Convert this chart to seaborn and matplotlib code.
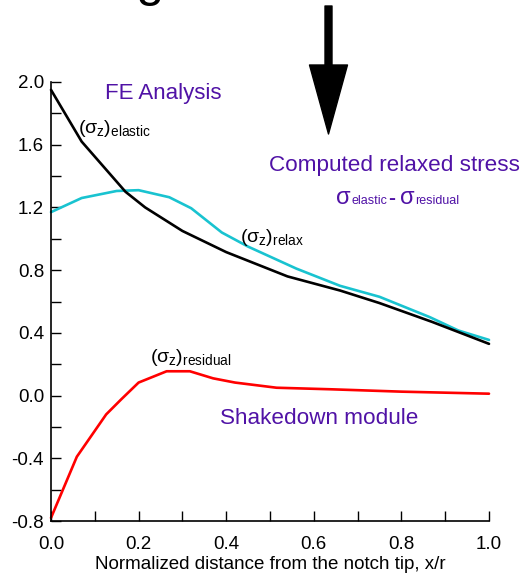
import matplotlib
matplotlib.use("Agg")
import matplotlib.pyplot as plt
from matplotlib.patches import FancyArrow
from matplotlib.ticker import MultipleLocator
import seaborn as sns
import pandas as pd

# ---------------- data ----------------
x_elastic = [0.0, 0.07, 0.12, 0.17, 0.215, 0.30, 0.40, 0.54, 0.66, 0.75, 0.87, 1.0]
y_elastic = [1.95, 1.62, 1.46, 1.30, 1.20, 1.05, 0.915, 0.76, 0.67, 0.59, 0.47, 0.33]

x_relax = [0.0, 0.07, 0.15, 0.20, 0.27, 0.32, 0.39, 0.45, 0.56, 0.66, 0.75, 0.865, 0.93, 1.0]
y_relax = [1.17, 1.26, 1.305, 1.31, 1.265, 1.195, 1.04, 0.95, 0.81, 0.70, 0.63, 0.50, 0.415, 0.355]

x_resid = [0.0, 0.059, 0.126, 0.16, 0.20, 0.264, 0.317, 0.37, 0.42, 0.515, 0.64, 0.80, 1.0]
y_resid = [-0.78, -0.39, -0.12, -0.025, 0.083, 0.155, 0.155, 0.11, 0.083, 0.05, 0.04, 0.025, 0.012]

x_ticks = [0.0, 0.2, 0.4, 0.6, 0.8, 1.0]
y_ticks = [-0.8, -0.4, 0.0, 0.4, 0.8, 1.2, 1.6, 2.0]
x_label = "Normalized distance from the notch tip, x/r"

# ---------------- style ----------------
sns.set_style("ticks")
plt.rcParams["font.family"] = ["Liberation Sans", "DejaVu Sans"]
plt.rcParams["mathtext.fontset"] = "custom"
plt.rcParams["mathtext.rm"] = "Liberation Sans"
plt.rcParams["mathtext.it"] = "Liberation Sans"
plt.rcParams["mathtext.bf"] = "Liberation Sans:bold"
plt.rcParams["axes.unicode_minus"] = False
plt.rcParams["text.color"] = "black"
plt.rcParams["axes.labelcolor"] = "black"

W, H = 526, 578
fig = plt.figure(figsize=(W / 100, H / 100), dpi=100)
fig.patch.set_facecolor("white")
ax = fig.add_axes([51 / W, 1 - 521 / H, (489 - 51) / W, (521 - 82) / H])
ax.set_facecolor("white")

PURPLE = "#5012A6"
CYAN = "#19C3D0"
RED = "#FF0000"

df_e = pd.DataFrame({"x": x_elastic, "y": y_elastic})
df_r = pd.DataFrame({"x": x_relax, "y": y_relax})
df_s = pd.DataFrame({"x": x_resid, "y": y_resid})

for d, c in [(df_r, CYAN), (df_e, "black"), (df_s, RED)]:
    sns.lineplot(data=d, x="x", y="y", ax=ax, color=c, linewidth=1.9,
                 estimator=None, sort=False, clip_on=False)

ax.set_xlim(0, 1.0)
ax.set_ylim(-0.8, 2.0)
ax.set_xticks(x_ticks)
ax.set_xticklabels([f"{v:.1f}" for v in x_ticks])
ax.set_yticks(y_ticks)
ax.set_yticklabels([f"{v:.1f}" for v in y_ticks])
ax.xaxis.set_minor_locator(MultipleLocator(0.1))
ax.yaxis.set_minor_locator(MultipleLocator(0.2))
ax.tick_params(which="both", direction="in", length=7, width=1.0, colors="black",
               labelsize=13.5, pad=5)
ax.tick_params(axis="x", pad=11)
for s in ["top", "right"]:
    ax.spines[s].set_visible(False)
for s in ["left", "bottom"]:
    ax.spines[s].set_linewidth(1.2)
    ax.spines[s].set_color("black")
ax.set_xlabel(x_label, fontsize=13.5, labelpad=2, color="black")
ax.set_ylabel("")


def px(xp, yp):
    return xp / W, 1 - yp / H


# curve labels
fig.text(*px(78, 128), r"$(\sigma_{z})_{elastic}$", fontsize=14, va="center", ha="left")
fig.text(*px(240, 237), r"$(\sigma_{z})_{relax}$", fontsize=14, va="center", ha="left")
fig.text(*px(150, 357), r"$(\sigma_{z})_{residual}$", fontsize=14, va="center", ha="left")

# purple annotations
fig.text(*px(105, 94), "FE Analysis", fontsize=16, color=PURPLE, va="center", ha="left")
fig.text(*px(269, 165), "Computed relaxed stress", fontsize=16.2, color=PURPLE,
         va="center", ha="left")
fig.text(*px(220, 419), "Shakedown module", fontsize=16.2, color=PURPLE,
         va="center", ha="left")

# sigma_elastic - sigma_residual
by = 204
fig.text(*px(336, by), "σ", fontsize=17, color=PURPLE, va="baseline", ha="left")
fig.text(*px(351, by), "elastic", fontsize=9, color=PURPLE, va="baseline", ha="left")
fig.text(*px(388, by), "-", fontsize=15, color=PURPLE, va="baseline", ha="left",
         fontweight="bold")
fig.text(*px(400, by), "σ", fontsize=17, color=PURPLE, va="baseline", ha="left")
fig.text(*px(415, by), "residual", fontsize=9, color=PURPLE, va="baseline", ha="left")

# clipped slide title at the very top (only the bottoms of the letters show)
fig.text(-19 / W, 1 + 4 / H, "Stress gets the elastic", fontsize=36, color="black",
         va="baseline", ha="left")

# big down arrow
arrow = FancyArrow(3.285, (H - 6) / 100, 0, -(134 - 6) / 100, width=0.07,
                   head_width=0.38, head_length=0.69, length_includes_head=True,
                   color="black", transform=fig.dpi_scale_trans, joinstyle="round")
fig.add_artist(arrow)

fig.savefig("out.png", dpi=100, facecolor="white")
